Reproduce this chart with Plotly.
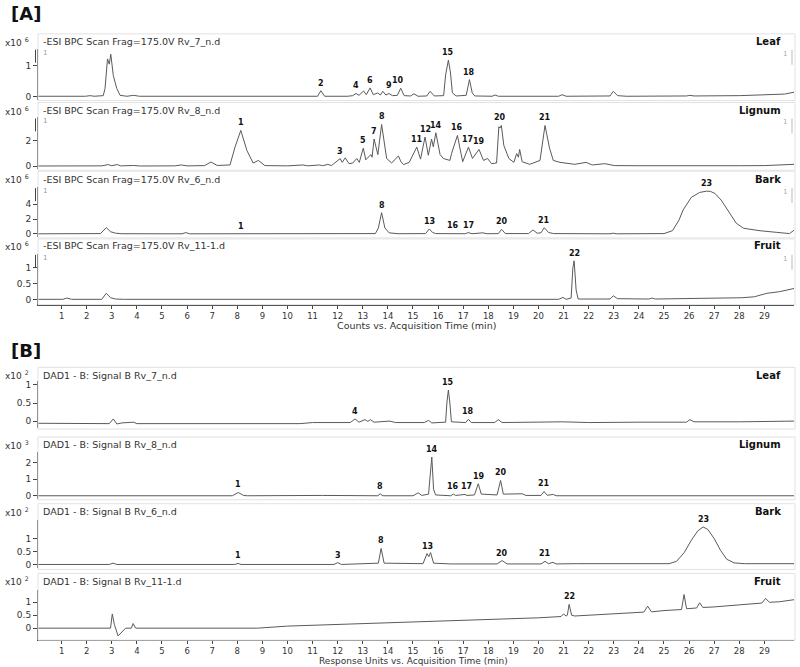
import numpy as np
import plotly.graph_objects as go

# ---- values: (retention time [min], intensity) ----
# [A] ESI BPC chromatograms, intensity x10^6
A_LEAF = [
    (0.06, 0.01), (1.0, 0.0), (1.95, 0.01), (2.14, 0.03), (2.3, 0.01), (2.66, 0.03), (2.73, 0.26),
    (2.83, 1.22), (2.9, 1.05), (2.96, 1.37), (3.06, 0.68), (3.2, 0.26), (3.33, 0.04), (3.6, 0.01),
    (3.87, 0.04), (4.1, 0.01), (6.0, 0.01), (8.0, 0.0), (10.0, 0.01), (11.2, 0.01), (11.33, 0.19),
    (11.48, 0.01), (12.4, 0.01), (12.6, 0.03), (12.73, 0.1), (12.85, 0.04), (13.03, 0.18), (13.14, 0.06),
    (13.29, 0.28), (13.42, 0.06), (13.6, 0.12), (13.7, 0.05), (13.8, 0.17), (13.92, 0.05), (14.04, 0.1),
    (14.18, 0.03), (14.38, 0.04), (14.51, 0.27), (14.65, 0.03), (14.9, 0.02), (15.04, 0.09), (15.2, 0.01),
    (15.55, 0.02), (15.68, 0.17), (15.85, 0.02), (16.22, 0.03), (16.3, 0.7), (16.41, 1.18), (16.49, 0.8),
    (16.57, 0.12), (16.72, 0.02), (17.12, 0.04), (17.25, 0.55), (17.36, 0.12), (17.46, 0.02), (18.15, 0.01),
    (18.27, 0.05), (18.4, 0.01), (20.8, 0.01), (20.94, 0.06), (21.1, 0.01), (22.85, 0.02), (22.98, 0.17),
    (23.15, 0.03), (23.5, 0.01), (24.5, 0.01), (25.9, 0.02), (26.03, 0.04), (26.2, 0.02), (28.0, 0.03),
    (29.3, 0.05), (29.8, 0.08), (30.18, 0.14),
]
A_LIGNUM = [
    (0.06, 0.02), (1.5, 0.02), (2.6, 0.03), (2.86, 0.13), (2.98, 0.04), (3.22, 0.13), (3.35, 0.03),
    (3.87, 0.06), (4.1, 0.02), (5.5, 0.03), (5.78, 0.1), (6.0, 0.03), (6.7, 0.05), (6.95, 0.33),
    (7.2, 0.06), (7.71, 0.1), (7.91, 1.48), (8.14, 2.77), (8.38, 1.23), (8.63, 0.25), (8.84, 0.45),
    (9.1, 0.05), (10.0, 0.03), (10.62, 0.1), (10.8, 0.03), (11.28, 0.1), (11.4, 0.04), (11.61, 0.15),
    (11.75, 0.05), (12.1, 0.59), (12.18, 0.3), (12.3, 0.65), (12.45, 0.2), (12.6, 0.25), (12.76, 0.6),
    (12.86, 0.3), (13.02, 1.4), (13.12, 0.5), (13.32, 0.9), (13.37, 0.7), (13.45, 2.1), (13.6, 0.9),
    (13.75, 3.23), (13.95, 0.6), (14.15, 0.25), (14.42, 0.8), (14.52, 0.35), (14.62, 0.13), (14.85, 0.3),
    (15.15, 1.48), (15.3, 0.55), (15.48, 2.26), (15.61, 0.85), (15.74, 2.1), (15.81, 1.5), (15.91, 2.59),
    (16.08, 0.9), (16.21, 0.6), (16.47, 0.45), (16.54, 1.0), (16.77, 2.38), (16.87, 1.4), (16.98, 0.35),
    (17.21, 1.48), (17.37, 0.6), (17.63, 1.3), (17.81, 0.45), (17.97, 0.6), (18.13, 0.2), (18.33, 0.25),
    (18.42, 3.05), (18.47, 2.95), (18.52, 3.15), (18.62, 1.6), (18.82, 0.6), (19.02, 0.3), (19.13, 0.98),
    (19.2, 0.7), (19.25, 1.3), (19.35, 0.35), (19.65, 0.15), (20.06, 0.45), (20.17, 2.1), (20.26, 3.15),
    (20.44, 1.4), (20.59, 0.45), (20.86, 0.3), (21.14, 0.2), (21.44, 0.15), (21.9, 0.3), (22.14, 0.1),
    (22.64, 0.2), (23.03, 0.05), (24.0, 0.04), (25.0, 0.03), (26.0, 0.02), (27.0, 0.03), (28.0, 0.04),
    (29.0, 0.05), (29.8, 0.08), (30.18, 0.15),
]
A_BARK = [
    (0.06, 0.02), (2.55, 0.05), (2.78, 0.85), (2.95, 0.3), (3.15, 0.1), (3.4, 0.03), (5.8, 0.02),
    (5.95, 0.18), (6.1, 0.02), (8.0, 0.01), (8.15, 0.05), (8.3, 0.01), (12.0, 0.01), (12.1, 0.05),
    (12.2, 0.01), (13.5, 0.05), (13.62, 0.8), (13.75, 2.85), (13.88, 0.8), (14.05, 0.15), (14.4, 0.03),
    (15.5, 0.05), (15.65, 0.67), (15.78, 0.2), (15.9, 0.05), (16.55, 0.03), (16.67, 0.1), (16.8, 0.03),
    (17.08, 0.03), (17.2, 0.18), (17.35, 0.03), (17.78, 0.15), (17.95, 0.03), (18.4, 0.05), (18.53, 0.62),
    (18.68, 0.05), (19.6, 0.05), (19.78, 0.53), (19.95, 0.1), (20.1, 0.15), (20.23, 0.84), (20.4, 0.2),
    (20.6, 0.05), (22.85, 0.02), (22.98, 0.1), (23.1, 0.02), (24.5, 0.02), (25.0, 0.05), (25.34, 0.44),
    (25.6, 1.87), (25.76, 3.2), (26.09, 4.9), (26.42, 5.56), (26.69, 5.73), (26.85, 5.7), (27.03, 5.42),
    (27.28, 4.53), (27.61, 2.76), (27.88, 1.43), (28.17, 0.76), (28.5, 0.55), (28.83, 0.43), (29.47, 0.22),
    (30.0, 0.05), (30.18, 0.5),
]
A_FRUIT = [
    (0.06, 0.01), (1.05, 0.01), (1.21, 0.05), (1.4, 0.01), (2.6, 0.01), (2.78, 0.2), (2.95, 0.06),
    (3.15, 0.02), (3.5, 0.01), (10.0, 0.01), (15.0, 0.01), (20.8, 0.01), (20.98, 0.07), (21.1, 0.01),
    (21.3, 0.05), (21.37, 1.0), (21.42, 1.22), (21.5, 0.3), (21.58, 0.02), (22.85, 0.02), (22.98, 0.12),
    (23.15, 0.03), (24.4, 0.02), (24.53, 0.05), (24.65, 0.02), (26.0, 0.03), (26.6, 0.03), (26.7, 0.05),
    (26.8, 0.04), (27.5, 0.04), (28.1, 0.06), (28.6, 0.09), (29.1, 0.2), (29.6, 0.25), (30.18, 0.35),
]

# [B] DAD signal B chromatograms
B_LEAF = [
    (0.06, -0.06), (1.0, -0.07), (2.0, -0.06), (2.9, -0.07), (3.06, 0.06), (3.2, -0.08), (3.4, -0.05),
    (3.87, -0.03), (4.0, -0.07), (5.0, -0.07), (6.5, -0.06), (8.0, -0.07), (9.0, -0.06), (10.5, -0.07),
    (11.0, -0.04), (12.5, -0.04), (12.69, 0.06), (12.85, -0.03), (13.09, 0.04), (13.2, -0.01), (13.3, 0.04),
    (13.45, -0.03), (14.08, 0.0), (14.3, -0.04), (15.45, -0.04), (15.62, 0.02), (15.75, -0.05),
    (16.3, -0.03), (16.35, 0.5), (16.41, 0.86), (16.47, 0.5), (16.53, -0.02), (17.1, -0.04), (17.21, 0.05),
    (17.32, -0.04), (18.25, -0.04), (18.4, 0.04), (18.55, -0.04), (20.96, -0.02), (22.0, -0.04),
    (24.0, -0.03), (25.9, -0.03), (26.03, 0.04), (26.2, -0.02), (28.0, -0.02), (30.18, 0.0),
]
B_LIGNUM = [
    (0.06, 0.0), (2.9, 0.0), (3.07, 0.03), (3.2, 0.0), (3.87, 0.02), (4.0, 0.0), (7.8, 0.0), (8.04, 0.2),
    (8.25, 0.02), (8.4, 0.0), (10.57, 0.03), (10.7, 0.0), (11.1, 0.02), (11.4, 0.02), (13.6, 0.0),
    (13.69, 0.12), (13.8, 0.0), (15.0, 0.0), (15.21, 0.18), (15.35, 0.02), (15.62, 0.1), (15.75, 2.36),
    (15.82, 0.4), (15.9, 0.05), (16.5, 0.0), (16.61, 0.1), (16.7, 0.02), (17.07, 0.08), (17.15, 0.02),
    (17.45, 0.05), (17.6, 0.73), (17.72, 0.1), (18.35, 0.05), (18.49, 0.93), (18.6, 0.1), (19.35, 0.12),
    (19.5, 0.02), (20.1, 0.02), (20.22, 0.26), (20.35, 0.03), (20.59, 0.08), (20.7, 0.0), (30.18, 0.0),
]
B_BARK = [
    (0.06, 0.0), (2.9, 0.0), (3.05, 0.05), (3.2, 0.0), (7.9, 0.0), (8.03, 0.04), (8.15, 0.0),
    (11.85, 0.0), (12.0, 0.07), (12.15, 0.0), (13.62, 0.05), (13.73, 0.62), (13.85, 0.05), (15.4, 0.03),
    (15.56, 0.42), (15.63, 0.3), (15.7, 0.46), (15.82, 0.05), (16.5, 0.02), (18.35, 0.02), (18.55, 0.15),
    (18.75, 0.02), (20.1, 0.02), (20.26, 0.12), (20.4, 0.03), (20.58, 0.08), (20.7, 0.02), (21.5, 0.03),
    (25.2, 0.03), (25.5, 0.12), (25.8, 0.45), (26.1, 0.95), (26.35, 1.3), (26.56, 1.45), (26.75, 1.35),
    (27.0, 1.0), (27.25, 0.55), (27.5, 0.2), (27.8, 0.06), (28.2, 0.03), (30.18, 0.03),
]
B_FRUIT = [
    (0.06, 0.0), (2.95, 0.0), (3.02, 0.55), (3.1, 0.15), (3.25, -0.3), (3.4, -0.15), (3.55, 0.0),
    (3.78, 0.0), (3.85, 0.18), (3.95, 0.0), (8.8, 0.0), (10.0, 0.08), (12.0, 0.14), (15.0, 0.24),
    (18.0, 0.33), (20.0, 0.4), (20.9, 0.45), (21.0, 0.55), (21.1, 0.47), (21.15, 0.5), (21.22, 0.92),
    (21.32, 0.5), (21.45, 0.47), (22.0, 0.5), (24.2, 0.62), (24.35, 0.85), (24.5, 0.63), (25.0, 0.68),
    (25.7, 0.72), (25.8, 1.3), (25.9, 0.75), (26.3, 0.78), (26.42, 0.98), (26.55, 0.8), (27.0, 0.82),
    (28.0, 0.9), (28.9, 0.97), (29.05, 1.15), (29.2, 1.0), (29.6, 1.02), (30.18, 1.1),
]

# peak numbers: (label, retention time)
A_LEAF_PEAKS = [("2", 11.33), ("4", 12.73), ("6", 13.29), ("9", 14.04), ("10", 14.41), ("15", 16.41), ("18", 17.25)]
A_LIGNUM_PEAKS = [("1", 8.14), ("3", 12.1), ("5", 13.02), ("7", 13.45), ("8", 13.75), ("11", 15.15), ("12", 15.48),
                  ("14", 15.91), ("16", 16.77), ("17", 17.18), ("19", 17.63), ("20", 18.47), ("21", 20.26)]
A_BARK_PEAKS = [("1", 8.15), ("8", 13.75), ("13", 15.65), ("16", 16.6), ("17", 17.2), ("20", 18.53),
                ("21", 20.23), ("23", 26.69)]
A_FRUIT_PEAKS = [("22", 21.42)]
B_LEAF_PEAKS = [("4", 12.69), ("15", 16.41), ("18", 17.21)]
B_LIGNUM_PEAKS = [("1", 8.04), ("8", 13.69), ("14", 15.75), ("16", 16.61), ("17", 17.12), ("19", 17.62),
                  ("20", 18.52), ("21", 20.22)]
B_BARK_PEAKS = [("1", 8.03), ("3", 12.0), ("8", 13.73), ("13", 15.56), ("20", 18.55), ("21", 20.26), ("23", 26.56)]
B_FRUIT_PEAKS = [("22", 21.22)]

A_TITLES = ["-ESI BPC Scan Frag=175.0V Rv_7_n.d", "-ESI BPC Scan Frag=175.0V Rv_8_n.d",
            "-ESI BPC Scan Frag=175.0V Rv_6_n.d", "-ESI BPC Scan Frag=175.0V Rv_11-1.d"]
B_TITLES = ["DAD1 - B: Signal B Rv_7_n.d", "DAD1 - B: Signal B Rv_8_n.d",
            "DAD1 - B: Signal B Rv_6_n.d", "DAD1 - B: Signal B Rv_11-1.d"]
A_EXP = ["6", "6", "6", "6"]
B_EXP = ["2", "3", "2", "2"]
TISSUES = ["Leaf", "Lignum", "Bark", "Fruit"]
Y_TICKS = [[0, 1], [0, 2], [0, 2, 4], [0, 0.5, 1], [0, 0.5, 1], [0, 1, 2], [0, 0.5, 1], [0, 0.5, 1]]
X_TICKS = list(range(1, 30))

# ---- page geometry (pixels) ----
W, H = 800, 667
X_LEFT, X_RIGHT = 38, 794
T_RANGE = [0.06, 30.18]
LINE = "#5a5a5a"
AX = "#444444"
FONT = "DejaVu Sans"

# top, bottom, zero line, px per unit, header row, box top, box bottom
GEOM = [
    (48, 99, 96, 31, 41, 33, 100),
    (117, 169, 166, 13, 110, 102, 170),
    (187, 237, 234, 7.5, 179, 171, 238),
    (254, 305, 300, 32, 246, 239, 305),
    (382, 429, 422, 36.3, 376, 368, 430),
    (453, 500, 497, 16.5, 446, 438, 501),
    (521, 570, 566, 26, 513, 505, 571),
    (592, 642, 630, 26, 583, 575, 642),
]


def fx(px):
    return px / W


def fy(py):
    return 1 - py / H


def peak_height(data, t0, win=0.12):
    t = np.array([p[0] for p in data])
    y = np.array([p[1] for p in data])
    m = np.abs(t - t0) <= win
    return y[m].max() if m.any() else float(np.interp(t0, t, y))


traces = [A_LEAF, A_LIGNUM, A_BARK, A_FRUIT, B_LEAF, B_LIGNUM, B_BARK, B_FRUIT]
peaks = [A_LEAF_PEAKS, A_LIGNUM_PEAKS, A_BARK_PEAKS, A_FRUIT_PEAKS,
         B_LEAF_PEAKS, B_LIGNUM_PEAKS, B_BARK_PEAKS, B_FRUIT_PEAKS]
titles = A_TITLES + B_TITLES
exps = A_EXP + B_EXP

fig = go.Figure()
annotations = []
shapes = []
layout = {}

for i, data in enumerate(traces):
    n = i + 1
    sfx = "" if n == 1 else str(n)
    top, bottom, zero, ppu, head, btop, bbot = GEOM[i]
    bottom_panel = n in (4, 8)

    fig.add_trace(go.Scatter(
        x=[p[0] for p in data], y=[p[1] for p in data],
        mode="lines", line=dict(color=LINE, width=1),
        xaxis="x" + sfx, yaxis="y" + sfx, hoverinfo="skip", showlegend=False,
    ))

    layout["xaxis" + sfx] = dict(
        domain=[fx(X_LEFT), fx(X_RIGHT)], range=T_RANGE, anchor="y" + sfx,
        showgrid=False, zeroline=False,
        showline=bottom_panel, linecolor=AX, linewidth=1,
        ticks="outside" if bottom_panel else "", ticklen=3, tickcolor=AX,
        tickvals=X_TICKS if bottom_panel else [], showticklabels=bottom_panel,
        tickfont=dict(family=FONT, size=8.5, color="#333"),
    )
    layout["yaxis" + sfx] = dict(
        domain=[fy(bottom), fy(top)],
        range=[-(bottom - zero) / ppu, (zero - top) / ppu], anchor="x" + sfx,
        showgrid=False, zeroline=False, showline=True, linecolor=AX, linewidth=1,
        ticks="outside", ticklen=4, tickcolor=AX,
        tickvals=Y_TICKS[i], ticktext=[f"{v:g}" for v in Y_TICKS[i]],
        tickfont=dict(family=FONT, size=9, color="#333"),
    )

    # panel frame
    shapes.append(dict(type="rect", xref="paper", yref="paper",
                       x0=fx(X_LEFT), x1=fx(X_RIGHT + 1), y0=fy(bbot), y1=fy(btop),
                       line=dict(color="#e2e2e2", width=1)))

    # header row
    annotations.append(dict(x=fx(3), y=fy(head), xref="paper", yref="paper", xanchor="left", yanchor="middle",
                            text="x10 <sup>%s</sup>" % exps[i], showarrow=False,
                            font=dict(family=FONT, size=9, color="#333")))
    annotations.append(dict(x=fx(41), y=fy(head), xref="paper", yref="paper", xanchor="left", yanchor="middle",
                            text=titles[i], showarrow=False, font=dict(family=FONT, size=9.5, color="#333")))
    annotations.append(dict(x=fx(783), y=fy(head), xref="paper", yref="paper", xanchor="right", yanchor="middle",
                            text="<b>%s</b>" % TISSUES[i % 4], showarrow=False,
                            font=dict(family=FONT, size=10, color="#111")))

    # cursor markers on the MS panels
    if n <= 4:
        shapes.append(dict(type="line", xref="paper", yref="paper", x0=fx(35.5), x1=fx(35.5),
                           y0=fy(top + 1), y1=fy(top + 14), line=dict(color=AX, width=1)))
        shapes.append(dict(type="line", xref="paper", yref="paper", x0=fx(792), x1=fx(792),
                           y0=fy(top + 1), y1=fy(top + 16), line=dict(color="#bbbbbb", width=1)))
        annotations.append(dict(x=fx(41), y=fy(top + 4), xref="paper", yref="paper", xanchor="left",
                                yanchor="middle", text="1", showarrow=False,
                                font=dict(family=FONT, size=7, color="#999")))
        annotations.append(dict(x=fx(789), y=fy(top + 5), xref="paper", yref="paper", xanchor="right",
                                yanchor="middle", text="1", showarrow=False,
                                font=dict(family=FONT, size=7, color="#aaa")))

    # peak numbers
    for lab, t0 in peaks[i]:
        annotations.append(dict(x=t0, y=peak_height(data, t0), xref="x" + sfx, yref="y" + sfx,
                                xanchor="center", yanchor="bottom", yshift=1, text="<b>%s</b>" % lab,
                                showarrow=False, font=dict(family=FONT, size=8, color="#111")))

# section letters and axis titles
annotations += [
    dict(x=fx(9), y=fy(13), xref="paper", yref="paper", xanchor="left", yanchor="middle", text="<b>[A]</b>",
         showarrow=False, font=dict(family=FONT, size=18, color="#111")),
    dict(x=fx(9), y=fy(351), xref="paper", yref="paper", xanchor="left", yanchor="middle", text="<b>[B]</b>",
         showarrow=False, font=dict(family=FONT, size=18, color="#111")),
    dict(x=fx(416), y=fy(326), xref="paper", yref="paper", xanchor="center", yanchor="middle",
         text="Counts vs. Acquisition Time (min)", showarrow=False, font=dict(family=FONT, size=9.5, color="#333")),
    dict(x=fx(414), y=fy(663), xref="paper", yref="paper", xanchor="center", yanchor="middle",
         text="Response Units vs. Acquisition Time (min)", showarrow=False,
         font=dict(family=FONT, size=9, color="#333")),
]

fig.update_layout(
    width=W, height=H, margin=dict(l=0, r=0, t=0, b=0),
    paper_bgcolor="white", plot_bgcolor="white", showlegend=False,
    annotations=annotations, shapes=shapes, **layout,
)

# the page body has a default 8px margin; drop it so the figure sits at the window corner
fig.write_html("out.html", config={"displayModeBar": False},
               post_script="document.body.style.margin='0';")
